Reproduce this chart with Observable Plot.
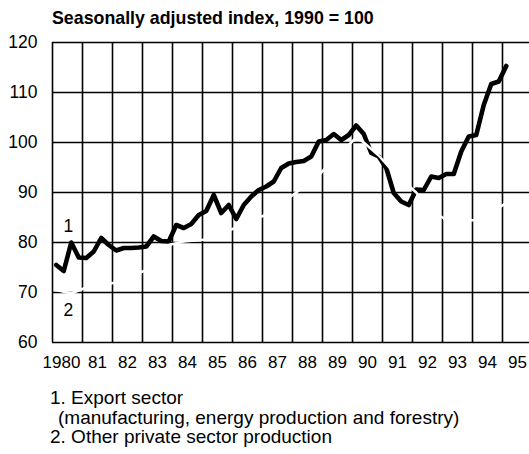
<!DOCTYPE html>
<html><head><meta charset="utf-8">
<script src="https://cdn.jsdelivr.net/npm/d3@7"></script>
<script src="https://cdn.jsdelivr.net/npm/@observablehq/plot@0.6"></script>
<style>
body{margin:0;background:#fff;font-family:"Liberation Sans",Arial,sans-serif;color:#000;width:529px;overflow:hidden}
#title{font-weight:bold;font-size:17.8px;line-height:17.5px;height:32px;box-sizing:border-box;padding-top:10px;padding-left:52px;white-space:nowrap}
#legend{font-size:19px;line-height:19.5px;margin-top:16px;padding-left:50px;white-space:nowrap}
#legend .ind{padding-left:8px}
</style></head><body>
<div id="title">Seasonally adjusted index, 1990 = 100</div>
<div id="chart"></div>
<div id="legend">
<div>1. Export sector</div>
<div class="ind">(manufacturing, energy production and forestry)</div>
<div>2. Other private sector production</div>
</div>
<script>
// Series 1: export sector, quarterly 1980Q1 - 1995Q1
const exportPeriods = [
"1980Q1","1980Q2","1980Q3","1980Q4","1981Q1","1981Q2","1981Q3","1981Q4",
"1982Q1","1982Q2","1982Q3","1982Q4","1983Q1","1983Q2","1983Q3","1983Q4",
"1984Q1","1984Q2","1984Q3","1984Q4","1985Q1","1985Q2","1985Q3","1985Q4",
"1986Q1","1986Q2","1986Q3","1986Q4","1987Q1","1987Q2","1987Q3","1987Q4",
"1988Q1","1988Q2","1988Q3","1988Q4","1989Q1","1989Q2","1989Q3","1989Q4",
"1990Q1","1990Q2","1990Q3","1990Q4","1991Q1","1991Q2","1991Q3","1991Q4",
"1992Q1","1992Q2","1992Q3","1992Q4","1993Q1","1993Q2","1993Q3","1993Q4",
"1994Q1","1994Q2","1994Q3","1994Q4","1995Q1"];
const exportValues = [
75.5,74.3,80.0,77.0,76.9,78.2,80.9,79.5,
78.4,78.9,78.9,79.0,79.2,81.2,80.3,80.2,
83.5,82.9,83.7,85.5,86.3,89.5,85.9,87.5,
84.7,87.5,89.2,90.5,91.2,92.2,94.9,95.8,
96.1,96.3,97.2,100.2,100.5,101.7,100.5,101.5,
103.4,101.7,97.9,97.2,94.9,89.9,88.2,87.5,
90.6,90.5,93.2,92.9,93.7,93.7,98.2,101.2,
101.5,107.5,111.7,112.2,115.3];
// Series 2: other private sector production (printed in white in the source)
const otherPeriods = ["1980Q1","1980Q3","1981Q1","1982Q1","1983Q1","1983Q4","1984Q2","1985Q1","1986Q1","1987Q1","1988Q1","1988Q4","1989Q3","1990Q1","1990Q2","1990Q4","1991Q2","1992Q1","1992Q3","1993Q1","1993Q4","1994Q2","1995Q1"];
const otherValues = [70.5,69.8,71,72,74.5,79.5,80.2,80.6,83,85.6,90,93.5,98,101,100,97.4,94,90,86.5,84.5,84.4,84.6,88];
const gridYears = [1980,1981,1982,1983,1984,1985,1986,1987,1988,1989,1990,1991,1992,1993,1994,1995];
const xTickLabels = ["1980","81","82","83","84","85","86","87","88","89","90","91","92","93","94","95"];
const yTicks = [60,70,80,90,100,110,120];
const seriesLabels = ["1","2"];
const seriesLabelYear = [1980.53,1980.53];
const seriesLabelValue = [83.3,66.4];

const toYear = p => +p.slice(0,4) + (+p.slice(5) - 1) / 4 + 0.125;
const exportData = exportPeriods.map((p,i) => ({x: toYear(p), y: exportValues[i]}));
const otherData = otherPeriods.map((p,i) => ({x: toYear(p), y: otherValues[i]}));
const labelData = seriesLabels.map((t,i) => ({t, x: seriesLabelYear[i], y: seriesLabelValue[i]}));
const labelMap = new Map(gridYears.map((y,i) => [y, xTickLabels[i]]));

const chart = Plot.plot({
  width: 529, height: 340,
  marginTop: 10, marginBottom: 30, marginLeft: 52, marginRight: 0,
  x: {domain: [1980, 1995.9], axis: null},
  y: {domain: [60, 120], axis: null},
  style: {fontFamily: "'Liberation Sans', Arial, sans-serif", color: "#000", background: "#fff"},
  marks: [
    Plot.ruleY(yTicks, {stroke: "#000", strokeWidth: 1.6}),
    Plot.ruleX(gridYears, {stroke: "#000", strokeWidth: 1.6}),
    Plot.line(exportData, {x: "x", y: "y", stroke: "#000", strokeWidth: 4.6, strokeLinejoin: "round", strokeLinecap: "round"}),
    Plot.line(otherData, {x: "x", y: "y", stroke: "#fff", strokeWidth: 2.5, strokeLinejoin: "round"}),
    Plot.text(labelData, {x: "x", y: "y", text: "t", fontSize: 17.5, fill: "#000"}),
    Plot.axisY(yTicks, {label: null, tickSize: 0, tickPadding: 15, fontSize: 17.5, tickFormat: d => String(d)}),
    Plot.axisX(gridYears.slice(0,1), {label: null, tickSize: 0, tickPadding: 13, fontSize: 17, dx: 9, tickFormat: d => labelMap.get(d)}),
    Plot.axisX(gridYears.slice(1), {label: null, tickSize: 0, tickPadding: 13, fontSize: 17, dx: 15, tickFormat: d => labelMap.get(d)})
  ]
});
document.getElementById("chart").appendChild(chart);
</script>
</body></html>
